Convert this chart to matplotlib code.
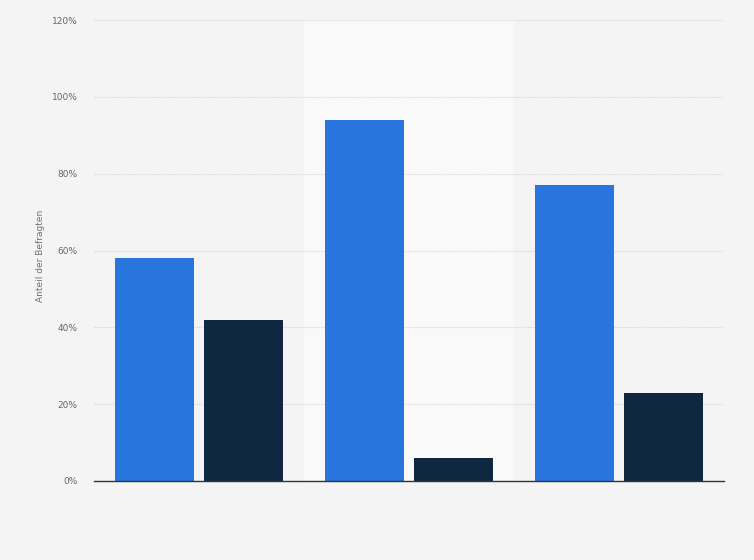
import matplotlib
matplotlib.use("Agg")
import matplotlib.pyplot as plt
import numpy as np
from matplotlib.ticker import FuncFormatter

# data (percent of respondents)
categories = ["", "", ""]
series_a = [58, 94, 77]
series_b = [42, 6, 23]
y_ticks = [0, 20, 40, 60, 80, 100, 120]

BLUE = "#2876dd"
NAVY = "#0f2740"
BG = "#f4f4f4"

fig = plt.figure(figsize=(7.54, 5.6), dpi=100, facecolor=BG)
ax = fig.add_axes([94/754, 1 - 481/560, 630/754, 461/560])
ax.set_facecolor(BG)

x = np.arange(len(categories))
w = 0.375
off = 0.211

# lighter band behind the middle group
ax.axvspan(0.5, 1.5, color="#f9f9f9", zorder=0, lw=0)

ax.bar(x - off, series_a, width=w, color=BLUE, zorder=3, lw=0)
ax.bar(x + off, series_b, width=w, color=NAVY, zorder=3, lw=0)

ax.set_xlim(-0.5, 2.5)
ax.set_ylim(0, 120)
ax.set_yticks(y_ticks)
ax.yaxis.set_major_formatter(FuncFormatter(lambda v, p: f"{v:.0f}%"))
ax.set_xticks([])
ax.tick_params(axis="y", length=0, labelsize=6.5, labelcolor="#666666", pad=12)
ax.grid(axis="y", color="#d6d6d6", linestyle=(0, (1, 1)), lw=0.8, zorder=1)

for s in ("top", "right", "left"):
    ax.spines[s].set_visible(False)
ax.spines["bottom"].set_color("#333333")
ax.spines["bottom"].set_linewidth(1.0)
ax.spines["bottom"].set_zorder(4)

ax.set_ylabel("Anteil der Befragten", fontsize=6.5, color="#707070")
ax.yaxis.set_label_coords(-49/630, 225/461)

plt.savefig("out.png", dpi=100, facecolor=BG)
